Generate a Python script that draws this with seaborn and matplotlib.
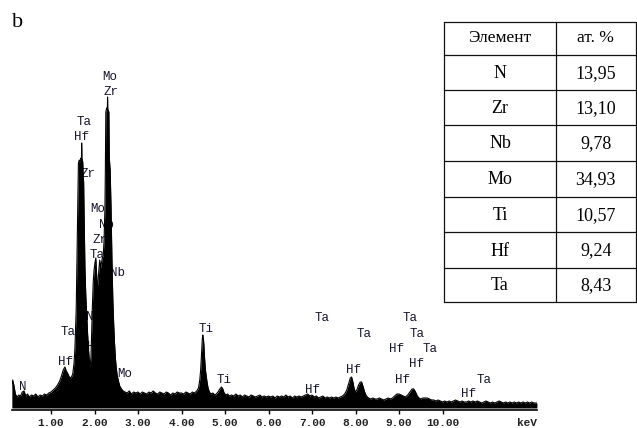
import matplotlib
matplotlib.use("Agg")
import matplotlib.pyplot as plt
import seaborn as sns
import numpy as np
import pandas as pd

# ---------------- data ----------------
energy_kev = [
    0.10, 0.12, 0.15, 0.18, 0.22, 0.26, 0.30, 0.34, 0.38, 0.42, 0.46, 0.50,
    0.55, 0.60, 0.65, 0.70, 0.75, 0.80, 0.85, 0.90, 0.95, 1.00, 1.05, 1.10,
    1.15, 1.20, 1.24, 1.28, 1.32, 1.35, 1.38, 1.42, 1.46,
    1.50, 1.53, 1.55, 1.57, 1.58, 1.60, 1.62, 1.63, 1.65, 1.67,
    1.69, 1.70, 1.705, 1.71, 1.73, 1.74, 1.75, 1.76, 1.78, 1.80,
    1.82, 1.84, 1.86, 1.88, 1.90, 1.91, 1.92, 1.93, 1.95, 1.97,
    1.99, 2.01, 2.03, 2.05, 2.06, 2.08, 2.10, 2.12, 2.14, 2.16,
    2.18, 2.20, 2.22, 2.24, 2.25, 2.26, 2.28, 2.295, 2.30, 2.305,
    2.33, 2.34, 2.36, 2.38, 2.40, 2.42, 2.44, 2.46, 2.48, 2.50,
    2.52, 2.55, 2.58, 2.62, 2.66,
    2.70, 2.75, 2.80, 2.85, 2.90, 2.95, 3.00, 3.05, 3.10, 3.15, 3.20, 3.25,
    3.30, 3.35, 3.40, 3.45, 3.50, 3.55, 3.60, 3.65, 3.70, 3.75, 3.80, 3.85,
    3.90, 3.95, 4.00, 4.05, 4.10, 4.15, 4.20, 4.25, 4.30, 4.35, 4.39, 4.42,
    4.44, 4.46, 4.48, 4.49, 4.51, 4.53, 4.55, 4.58, 4.61, 4.64, 4.68, 4.72,
    4.76, 4.80, 4.84, 4.88, 4.92, 4.95, 4.98, 5.02, 5.06, 5.10, 5.15, 5.20,
    5.25, 5.30, 5.35, 5.40, 5.45, 5.50, 5.55, 5.60, 5.65, 5.70, 5.75, 5.80,
    5.85, 5.90, 5.95, 6.00, 6.05, 6.10, 6.15, 6.20, 6.25, 6.30, 6.35, 6.40,
    6.45, 6.50, 6.55, 6.60, 6.65, 6.70, 6.75, 6.80, 6.85, 6.90, 6.95, 7.00,
    7.05, 7.10, 7.15, 7.20, 7.25, 7.30, 7.35, 7.40, 7.45, 7.50, 7.55, 7.60,
    7.65, 7.70, 7.75, 7.80, 7.84, 7.88, 7.91, 7.94, 7.97, 8.00, 8.03, 8.07,
    8.11, 8.14, 8.17, 8.21, 8.25, 8.30, 8.35, 8.40, 8.45, 8.50, 8.55, 8.60,
    8.65, 8.70, 8.75, 8.80, 8.85, 8.90, 8.95, 9.00, 9.05, 9.10, 9.15, 9.20,
    9.25, 9.30, 9.34, 9.38, 9.42, 9.46, 9.50, 9.55, 9.60, 9.65, 9.70, 9.75,
    9.80, 9.85, 9.90, 9.95, 10.00, 10.05, 10.10, 10.15, 10.20, 10.25, 10.30,
    10.35, 10.40, 10.45, 10.50, 10.55, 10.60, 10.65, 10.70, 10.75, 10.80,
    10.85, 10.90, 10.95, 11.00, 11.05, 11.10, 11.15, 11.20, 11.25, 11.30,
    11.35, 11.40, 11.45, 11.50, 11.55, 11.60, 11.65, 11.70, 11.75, 11.80,
    11.85, 11.90, 11.95, 12.00, 12.05, 12.10, 12.17,
]
counts = [
    20, 28, 22, 14, 11, 13, 12, 16, 17, 12, 14, 11,
    13, 12, 14, 11, 13, 12, 14, 13, 15, 16, 18, 20,
    23, 27, 32, 38, 41, 37, 35, 31, 30,
    34, 45, 60, 85, 100, 160, 215, 245, 248, 246,
    250, 249, 265, 250, 246, 232, 226, 195, 140, 112,
    95, 75, 60, 48, 41, 46, 52, 68, 100, 125,
    138, 145, 150, 132, 120, 126, 138, 148, 140, 145,
    150, 152, 168, 200, 240, 296, 300, 298, 311, 299,
    296, 250, 238, 200, 150, 110, 85, 65, 50, 40,
    33, 27, 22, 19, 17,
    16, 15, 17, 14, 16, 15, 16, 14, 16, 15, 14, 16,
    15, 17, 15, 14, 16, 15, 14, 16, 15, 13, 15, 14,
    16, 15, 15, 14, 16, 15, 14, 16, 15, 17, 20, 28,
    38, 55, 70, 73, 66, 50, 38, 28, 20, 16, 14, 15,
    13, 14, 16, 19, 21, 19, 15, 13, 14, 12, 13, 12,
    14, 12, 13, 11, 13, 12, 11, 13, 12, 11, 12, 13,
    11, 12, 11, 12, 11, 12, 10, 12, 11, 12, 11, 13,
    11, 12, 10, 12, 11, 12, 11, 12, 13, 14, 12, 13,
    11, 12, 10, 11, 12, 10, 11, 10, 11, 10, 11, 10,
    11, 12, 14, 18, 24, 30, 31, 26, 19, 16, 18, 23,
    26, 26, 22, 16, 12, 10, 9, 10, 9, 9, 10, 9,
    8, 9, 10, 9, 10, 12, 14, 14, 13, 12, 11, 13,
    16, 19, 19, 16, 12, 10, 9, 10, 10, 10, 9, 8,
    8, 7, 8, 7, 6, 7, 6, 7, 6, 7, 8,
    7, 6, 7, 6, 6, 7, 6, 7, 6, 7,
    6, 5, 6, 7, 6, 5, 6, 5, 6, 7,
    6, 5, 6, 5, 6, 5, 6, 5, 6, 5,
    6, 5, 6, 5, 6, 5, 5,
]

# line labels: text, energy (keV), height (counts) of label centre
peak_label_text = ["Mo", "Zr", "Ta", "Hf", "Zr", "Mo", "Nb", "Zr", "Ta", "Nb",
                   "Nb", "Ta", "Hf", "Hf", "Mo", "N", "Ti", "Ti",
                   "Ta", "Ta", "Ta", "Ta", "Hf", "Ta", "Hf", "Hf", "Hf", "Ta", "Hf", "Hf"]
peak_label_kev = [2.356, 2.372, 1.766, 1.706, 1.857, 2.064, 2.285, 2.126, 2.051, 2.524,
                  1.968, 1.398, 1.998, 1.338, 2.694, 0.349, 4.556, 4.984,
                  7.223, 8.202, 9.253, 9.407, 8.947, 9.713, 9.407, 7.949, 9.076, 10.961, 7.016, 10.593]
peak_label_h = [332, 317, 287, 272, 235, 200, 184, 169, 154, 136,
                92, 77, 62, 47, 35, 22, 80, 29,
                91, 75, 91, 75, 60, 60, 45, 39, 29, 29, 19, 15]

tick_values = [1, 2, 3, 4, 5, 6, 7, 8, 9, 10]
tick_labels = ["1.00", "2.00", "3.00", "4.00", "5.00", "6.00", "7.00", "8.00", "9.00", "10.00"]

table_header = ["Элемент", "ат. %"]
table_elements = ["N", "Zr", "Nb", "Mo", "Ti", "Hf", "Ta"]
table_at_pct = ["13,95", "13,10", "9,78", "34,93", "10,57", "9,24", "8,43"]

# ---------------- figure ----------------
sns.set_theme(style="white")
plt.rcParams["font.family"] = ["Liberation Mono", "DejaVu Sans"]

W, H = 637, 428
fig = plt.figure(figsize=(W / 100, H / 100), dpi=100)
fig.patch.set_facecolor("white")

# spectrum axes: x pixels 12..537, y pixels 60..410 (1 count = 1 px)
x0_px, x1_px = 12, 537
y_top_px, y_bot_px = 60, 410
ax = fig.add_axes([x0_px / W, (H - y_bot_px) / H, (x1_px - x0_px) / W, (y_bot_px - y_top_px) / H])
ax.set_facecolor("none")
ax.set_xlim(0.1034, 12.172)
ax.set_ylim(-2, 348)

df = pd.DataFrame({"keV": energy_kev, "counts": counts})
ax.fill_between(df["keV"], 0, df["counts"], color="black", lw=0, zorder=3)
sns.lineplot(data=df, x="keV", y="counts", color="black", lw=0.8, ax=ax, zorder=4)

label_color = "#16162e"
mono = ["Liberation Mono", "DejaVu Sans"]
for t, e, h in zip(peak_label_text, peak_label_kev, peak_label_h):
    ax.text(e, h - 4, t, ha="center", va="baseline", fontsize=9,
            family=mono, color=label_color, zorder=2)

for s in ["top", "right", "left"]:
    ax.spines[s].set_visible(False)
ax.spines["bottom"].set_color("black")
ax.spines["bottom"].set_linewidth(1.2)
ax.set_yticks([])
ax.set_xticks(tick_values)
ax.set_xticklabels(tick_labels, fontsize=8, fontweight="bold", family=mono, color="#222222")
ax.tick_params(axis="x", direction="out", length=3, width=1, color="black", pad=3, bottom=True)
ax.set_xlabel("")
ax.set_ylabel("")

# overlay axes in pixel coordinates for free text and table
ov = fig.add_axes([0, 0, 1, 1])
ov.set_xlim(0, W)
ov.set_ylim(H, 0)
ov.axis("off")
ov.set_facecolor("none")

ov.text(537, 423, "keV", ha="right", va="center", fontsize=8, fontweight="bold",
        family=mono, color="#222222")
ov.text(18, 22, "b", ha="center", va="center", fontsize=16,
        family=["Liberation Serif", "DejaVu Serif"], color="black")

# table
tx0, tx1, txm = 444, 635.5, 556
row_lines = [21.7, 55, 90, 125, 160.7, 196.7, 232.3, 267.7, 301.7]
lc = "#111111"
for yl in row_lines:
    ov.plot([tx0, tx1], [yl, yl], color=lc, lw=0.9)
for xl in [tx0, txm, tx1]:
    ov.plot([xl, xl], [row_lines[0], row_lines[-1]], color=lc, lw=0.9)

serif = ["Liberation Serif", "DejaVu Serif"]
c1, c2 = (tx0 + txm) / 2, (txm + tx1) / 2
yc = (row_lines[0] + row_lines[1]) / 2
ov.text(c1, yc, table_header[0], ha="center", va="center", fontsize=12.5, family=serif, color="black")
ov.text(c2, yc, table_header[1], ha="center", va="center", fontsize=12.5, family=serif, color="black")
for i, (el, v) in enumerate(zip(table_elements, table_at_pct)):
    yc = (row_lines[i + 1] + row_lines[i + 2]) / 2 + 1
    ov.text(c1, yc, el, ha="center", va="center", fontsize=13, family=serif, color="black")
    ov.text(c2, yc, v, ha="center", va="center", fontsize=13, family=serif, color="black")

fig.savefig("out.png", dpi=100)
